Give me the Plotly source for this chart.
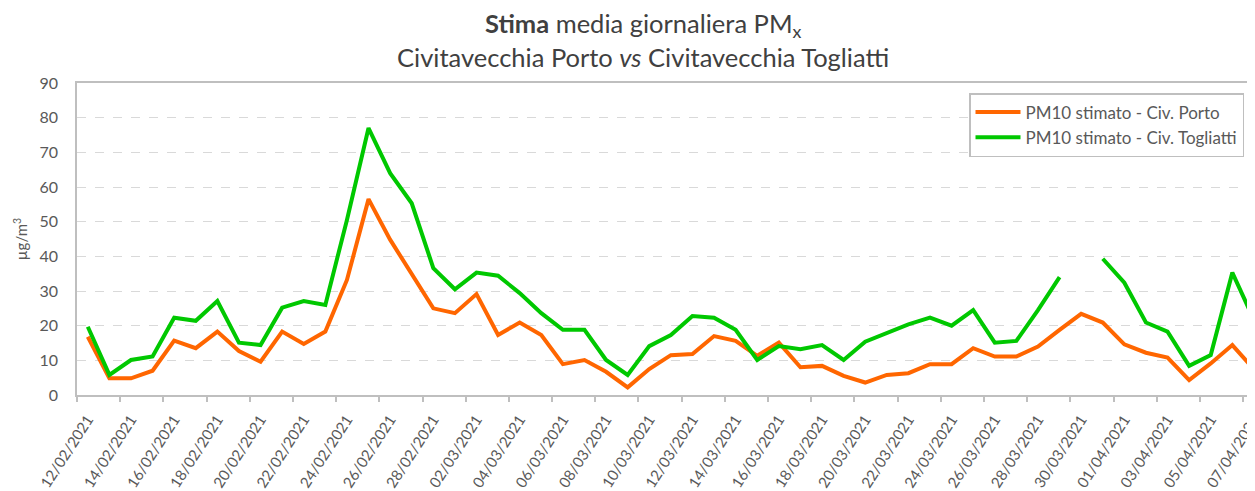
import pandas as pd
import plotly.graph_objects as go

dates = list(pd.date_range("2021-02-12", "2021-04-07", freq="D").strftime("%d/%m/%Y"))

porto = [16.8, 4.8, 4.8, 7.0, 15.7, 13.5, 18.3, 12.7, 9.6, 18.3,
         14.7, 18.3, 33.2, 56.5, 44.8, 35.1, 25.0, 23.6, 29.1, 17.3,
         20.9, 17.3, 8.9, 10.1, 6.7, 2.2, 7.5, 11.5, 11.8, 17.0,
         15.6, 11.3, 15.1, 8.0, 8.4, 5.5, 3.6, 5.8, 6.3, 8.9,
         8.9, 13.5, 11.1, 11.1, 14.0, 18.8, 23.4, 20.9, 14.6, 12.2,
         10.8, 4.3, 9.1, 14.4, 7.4]

togliatti = [19.7, 5.8, 10.1, 11.1, 22.3, 21.4, 27.1, 15.1, 14.4, 25.2,
             27.1, 26.0, 50.5, 77.0, 64.0, 55.3, 36.6, 30.5, 35.3, 34.4,
             29.4, 23.6, 18.8, 18.8, 10.1, 5.8, 14.1, 17.3, 22.8, 22.3,
             18.8, 10.1, 14.1, 13.2, 14.4, 10.1, 15.4, 18.0, 20.4, 22.3,
             20.0, 24.5, 15.1, 15.6, 24.5, 34.0, None, 39.3, 32.4, 20.9,
             18.3, 8.4, 11.5, 35.3, 21.7]

series_names = ["PM10 stimato - Civ. Porto", "PM10 stimato - Civ. Togliatti"]
colors = ["#FF6600", "#00C800"]

title_lines = ["<b>Stima</b> media giornaliera PM<sub>x</sub>",
               "Civitavecchia Porto <i>vs</i> Civitavecchia Togliatti"]

y_ticks = list(range(0, 91, 10))
label_dates = dates[::2]
boundaries = [i - 0.5 for i in range(0, len(dates), 2)]
x_range = [-0.5, 54.05]

FONT = "Lato"
GRAY = "#595959"
AXIS = "#BFBFBF"

# the page body has an 8px default margin: size the figure so it ends at the window edge
OFF = 8
W, H = 1255 - OFF, 491 - OFF
ML, MR, MT, MB = 77 - OFF, 0, 83 - OFF, 96
PW, PH = W - ML - MR, H - MT - MB


def px_x(x):
    return (x - OFF - ML) / PW


def px_y(y):
    return (H - MB - (y - OFF)) / PH


fig = go.Figure()
for name, vals, col in zip(series_names, [porto, togliatti], colors):
    fig.add_trace(go.Scatter(x=dates, y=vals, mode="lines", name=name,
                             line=dict(color=col, width=4), connectgaps=False))
fig.add_trace(go.Scatter(x=[], y=[], xaxis="x2", showlegend=False, hoverinfo="skip"))

for txt, yc in zip(title_lines, [25, 57]):
    fig.add_annotation(text=txt, x=px_x(643), y=px_y(yc), xref="paper", yref="paper",
                       xanchor="center", yanchor="middle", showarrow=False,
                       font=dict(family=FONT, size=25.5, color="#404040"))

fig.update_layout(
    width=W, height=H,
    margin=dict(l=ML, r=MR, t=MT, b=MB, autoexpand=False),
    paper_bgcolor="white", plot_bgcolor="white",
    font=dict(family=FONT, color=GRAY, size=16),
    xaxis=dict(
        type="category", range=x_range, automargin=False,
        tickmode="array", tickvals=label_dates, ticktext=label_dates,
        tickangle=-57, ticks="", showgrid=False, ticklabelstandoff=8,
        showline=True, linecolor=AXIS, linewidth=1.5, mirror=True,
        tickfont=dict(family=FONT, size=15, color=GRAY),
        zeroline=False,
    ),
    xaxis2=dict(
        overlaying="x", anchor="y", side="bottom", type="linear", range=x_range,
        automargin=False,
        tickmode="array", tickvals=boundaries, showticklabels=False,
        ticks="outside", ticklen=6, tickcolor=AXIS, tickwidth=1.5,
        showgrid=False, showline=False, zeroline=False,
    ),
    yaxis=dict(
        range=[0, 90], tickmode="array", tickvals=y_ticks, automargin=False,
        showgrid=True, gridcolor="#D9D9D9", griddash="dash", gridwidth=1,
        showline=True, linecolor=AXIS, linewidth=1.5,
        ticks="", ticklabelstandoff=14, zeroline=False,
        tickfont=dict(family=FONT, size=16, color=GRAY),
        title=dict(text="µg/m<sup>3</sup>", standoff=8,
                   font=dict(family=FONT, size=15, color=GRAY)),
    ),
    legend=dict(
        x=px_x(1244), xanchor="right", y=px_y(93), yanchor="top",
        bordercolor=AXIS, borderwidth=1.5, bgcolor="white",
        font=dict(family=FONT, size=17, color=GRAY),
        itemwidth=45,
    ),
)

fig.write_html("out.html")
